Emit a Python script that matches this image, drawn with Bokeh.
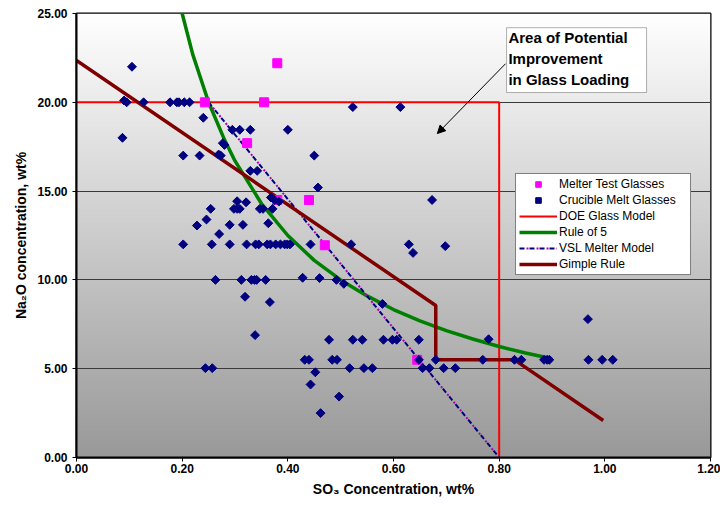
import numpy as np
from bokeh.plotting import figure
from bokeh.models import (FixedTicker, PrintfTickFormatter, Legend, LegendItem,
                          BoxAnnotation, Label, Arrow, NormalHead, Range1d)
from bokeh.embed import file_html
from bokeh.resources import INLINE

# ---------------- data ----------------
x_ticks = [0.0, 0.2, 0.4, 0.6, 0.8, 1.0, 1.2]
y_ticks = [0, 5, 10, 15, 20, 25]

melter_so3 = [0.380, 0.243, 0.355, 0.323, 0.380, 0.440, 0.470, 0.645]
melter_na2o = [22.2, 20.0, 20.0, 17.7, 14.5, 14.5, 11.95, 5.5]

crucible_so3 = [
    0.105,
    0.090, 0.095, 0.127, 0.177, 0.190, 0.194, 0.204, 0.214,
    0.523, 0.613,
    0.240,
    0.087,
    0.295, 0.309, 0.329, 0.400,
    0.277, 0.280,
    0.202, 0.233, 0.269, 0.273, 0.450,
    0.329, 0.342,
    0.457,
    0.368, 0.375, 0.383, 0.304, 0.321, 0.673,
    0.254, 0.298, 0.304, 0.309, 0.347, 0.353, 0.371,
    0.246, 0.228, 0.290, 0.315, 0.363, 0.270,
    0.202, 0.256, 0.290, 0.322, 0.339, 0.345, 0.361, 0.367, 0.377, 0.386,
    0.394, 0.399, 0.404, 0.443, 0.520, 0.629,
    0.637, 0.698,
    0.263, 0.312, 0.331, 0.337, 0.341, 0.358, 0.428, 0.460, 0.492, 0.506,
    0.319, 0.366, 0.579,
    0.338,
    0.478, 0.523, 0.541, 0.581, 0.598, 0.606, 0.648, 0.780,
    0.968,
    0.432, 0.440, 0.484, 0.493, 0.648, 0.680, 0.769, 0.829, 0.842, 0.885,
    0.891, 0.895, 0.969, 0.995, 1.015,
    0.244, 0.257, 0.517, 0.544, 0.560, 0.655, 0.668, 0.695, 0.717,
    0.452, 0.443, 0.497, 0.462,
]
crucible_na2o = [
    22.0,
    20.1, 20.0, 20.0, 20.0, 20.0, 20.0, 20.0, 20.0,
    19.73, 19.73,
    19.13,
    18.0,
    18.45, 18.45, 18.45, 18.45,
    17.7, 17.6,
    17.0, 17.0, 17.06, 17.0, 17.0,
    16.14, 16.14,
    15.2,
    14.64, 14.5, 14.41, 14.43, 14.37, 14.5,
    14.0, 14.0, 14.0, 14.0, 14.0, 14.0, 14.0,
    13.4, 13.06, 13.1, 13.1, 13.19, 12.58,
    12.0, 12.0, 12.0, 12.0, 12.0, 12.0, 12.0, 12.0, 12.0, 12.0,
    12.0, 12.0, 12.0, 12.0, 12.0, 12.0,
    11.52, 11.9,
    10.0, 10.0, 10.0, 10.0, 10.0, 10.0, 10.12, 10.1, 10.0, 9.78,
    9.05, 8.75, 8.65,
    6.89,
    6.63, 6.63, 6.63, 6.63, 6.63, 6.63, 6.63, 6.66,
    7.79,
    5.5, 5.5, 5.5, 5.5, 5.5, 5.5, 5.5, 5.5, 5.5, 5.5,
    5.5, 5.5, 5.5, 5.5, 5.5,
    5.03, 5.03, 5.03, 5.03, 5.03, 5.03, 5.03, 5.03, 5.03,
    4.8, 4.11, 3.43, 2.5,
]

doe_so3 = [0.0, 0.8, 0.8]
doe_na2o = [20.0, 20.0, 0.0]

rule5_so3 = [0.20, 0.22, 0.25, 0.28, 0.30, 0.35, 0.40, 0.45, 0.50, 0.55,
             0.60, 0.65, 0.70, 0.75, 0.80, 0.85, 0.90]
rule5_na2o = [25.0, 22.7, 20.0, 17.9, 16.7, 14.3, 12.5, 11.1, 10.0, 9.1,
              8.33, 7.69, 7.14, 6.67, 6.25, 5.88, 5.56]

vsl_so3 = [0.25, 0.80]
vsl_na2o = [20.0, 0.0]

gimple_so3 = [0.0, 0.68, 0.68, 0.829, 0.997]
gimple_na2o = [22.35, 8.56, 5.5, 5.5, 2.08]

# ---------------- figure ----------------
FONT = "Liberation Sans"
p = figure(width=720, height=506, x_range=Range1d(0, 1.2), y_range=Range1d(0, 25),
           output_backend="svg", toolbar_location=None,
           min_border_left=76, min_border_right=10, min_border_top=13, min_border_bottom=49)
p.background_fill_color = "white"
p.border_fill_color = "white"
p.outline_line_color = "black"
p.outline_line_width = 2

# gradient background of the plot area
N = 256
img = np.empty((N, 1), dtype=np.uint32)
view = img.view(dtype=np.uint8).reshape((N, 1, 4))
g = np.linspace(153, 255, N).astype(np.uint8)
view[:, 0, 0] = g
view[:, 0, 1] = g
view[:, 0, 2] = g
view[:, 0, 3] = 255
p.image_rgba(image=[img], x=0, y=0, dw=1.2, dh=25, level="image")

# grid
p.xgrid.visible = False
p.ygrid.ticker = FixedTicker(ticks=[5, 10, 15, 20])
p.ygrid.grid_line_color = "#3a3a3a"
p.ygrid.grid_line_width = 1

# axes
for ax in (p.xaxis, p.yaxis):
    ax.axis_line_color = "black"
    ax.axis_line_width = 2
    ax.major_tick_line_color = "black"
    ax.major_tick_out = 4
    ax.major_tick_in = 0
    ax.minor_tick_line_color = None
    ax.formatter = PrintfTickFormatter(format="%.2f")
    ax.major_label_text_font = FONT
    ax.major_label_text_font_style = "bold"
    ax.major_label_text_font_size = "12px"
    ax.major_label_text_color = "black"
    ax.axis_label_text_font = FONT
    ax.axis_label_text_font_style = "bold"
    ax.axis_label_text_font_size = "14px"
    ax.axis_label_text_color = "black"
p.xaxis.ticker = FixedTicker(ticks=x_ticks)
p.yaxis.ticker = FixedTicker(ticks=y_ticks)
p.xaxis.major_label_standoff = 2
p.yaxis.major_label_standoff = 5
p.xaxis.axis_label = "SO\u2083 Concentration, wt%"
p.yaxis.axis_label = "Na\u2082O concentration, wt%"
p.xaxis.axis_label_standoff = 5
p.yaxis.axis_label_standoff = 5

# lines
r_doe = p.line(doe_so3, doe_na2o, line_color="#FF0000", line_width=2)
r_r5 = p.line(rule5_so3, rule5_na2o, line_color="#008000", line_width=3.5)
r_vsl1 = p.line(vsl_so3, vsl_na2o, line_color="#000080", line_width=2, line_dash="5 5")
r_vsl2 = p.line(vsl_so3, vsl_na2o, line_color="#B000B0", line_width=2, line_dash="2 8",
                line_dash_offset=3)
r_gim = p.line(gimple_so3, gimple_na2o, line_color="#800000", line_width=3.5)

# markers
r_mel = p.scatter(melter_so3, melter_na2o, marker="square", size=9,
                  fill_color="#FF00FF", line_color="#FF00FF")
r_cru = p.scatter(crucible_so3, crucible_na2o, marker="square", angle=np.pi / 4, size=6.3,
                  fill_color="#000080", line_color="#000080")

# annotation
box = BoxAnnotation(left=0.814, right=1.079, top=24.2, bottom=20.55,
                    fill_color="white", fill_alpha=1.0, line_color="black", line_width=1)
p.add_layout(box)
lab = Label(x=0.8175, y=24.1, text="Area of Potential\nImprovement\nin Glass Loading",
            text_font=FONT, text_font_style="bold", text_font_size="15px",
            text_color="black", text_align="left", text_baseline="top",
            text_line_height=1.22)
p.add_layout(lab)
arr = Arrow(end=NormalHead(size=8, fill_color="black", line_color="black"),
            x_start=0.812, y_start=22.17, x_end=0.683, y_end=18.24,
            line_color="black", line_width=1)
p.add_layout(arr)

# legend
legend = Legend(items=[
    LegendItem(label="Melter Test Glasses", renderers=[r_mel]),
    LegendItem(label="Crucible Melt Glasses", renderers=[r_cru]),
    LegendItem(label="DOE Glass Model", renderers=[r_doe]),
    LegendItem(label="Rule of 5", renderers=[r_r5]),
    LegendItem(label="VSL Melter Model", renderers=[r_vsl1, r_vsl2]),
    LegendItem(label="Gimple Rule", renderers=[r_gim]),
], location=(439, 182))
legend.padding = 3
legend.margin = 0
legend.spacing = 2
legend.label_height = 14
legend.glyph_height = 14
legend.glyph_width = 38
legend.label_standoff = 2
legend.label_width = 128
legend.label_text_font = FONT
legend.label_text_font_size = "12px"
legend.label_text_color = "black"
legend.border_line_color = "black"
legend.border_line_width = 1
legend.background_fill_color = "white"
legend.background_fill_alpha = 1.0
p.add_layout(legend)

open("out.html", "w").write(file_html(p, INLINE))
